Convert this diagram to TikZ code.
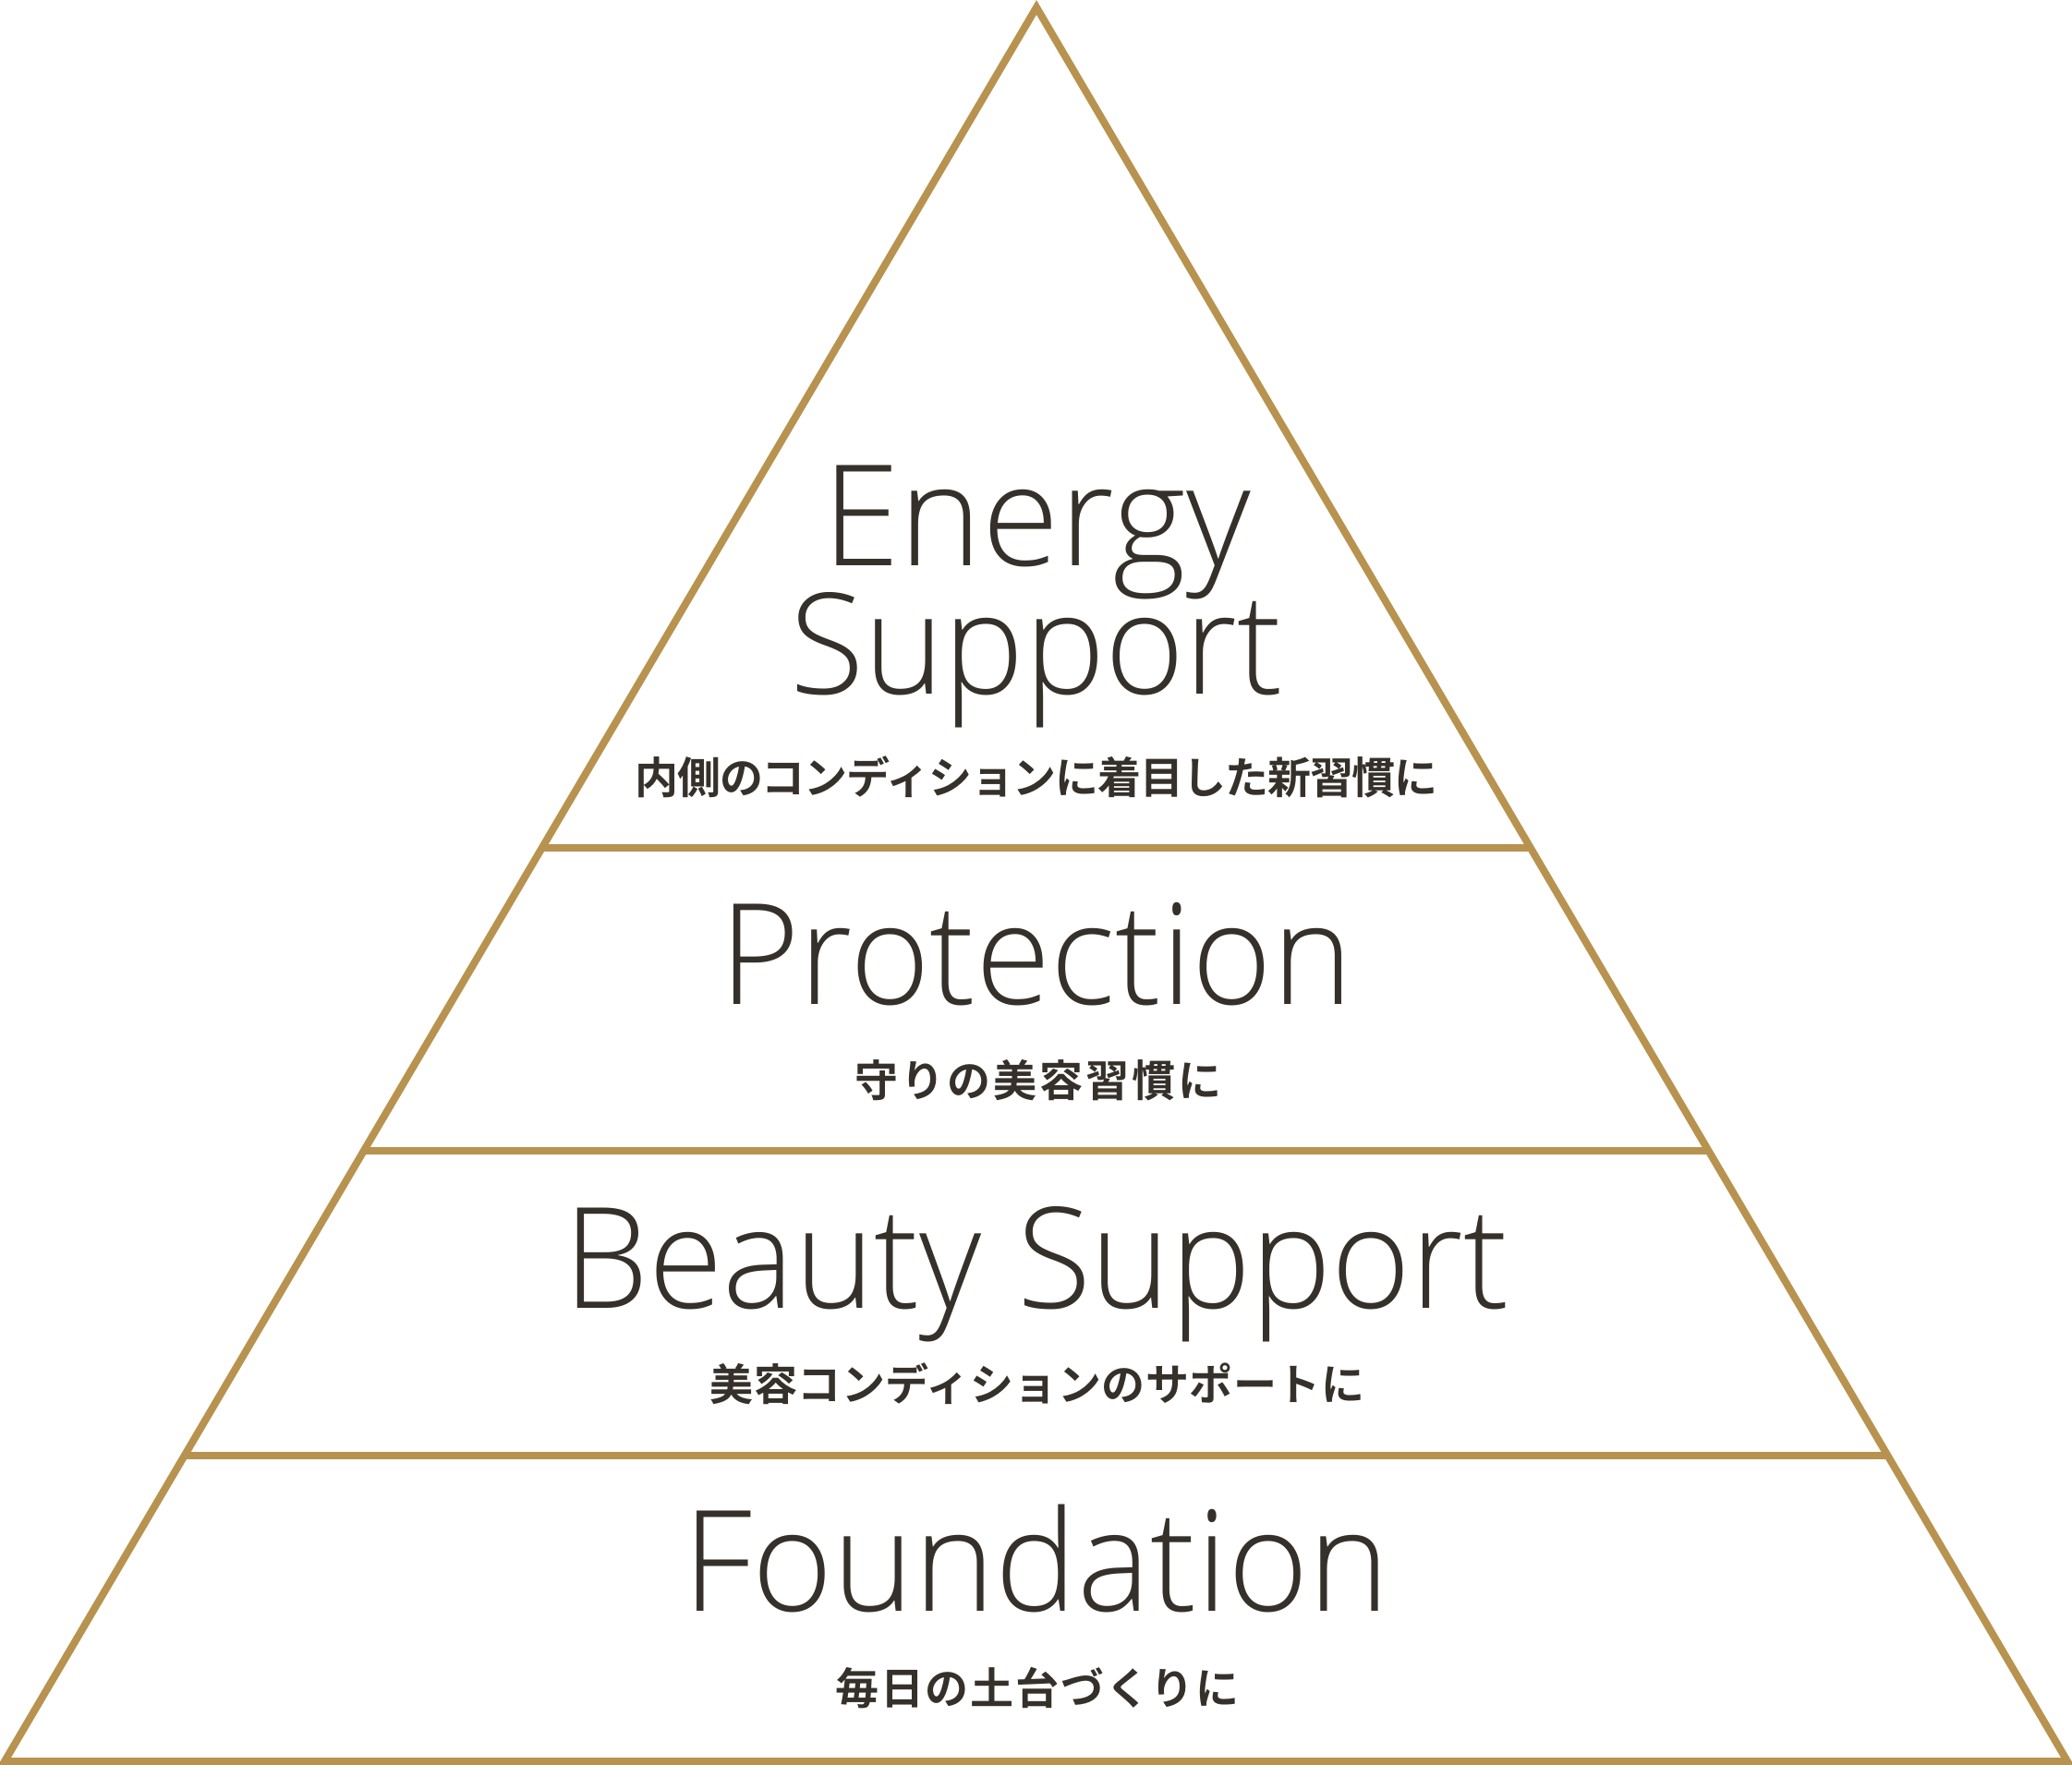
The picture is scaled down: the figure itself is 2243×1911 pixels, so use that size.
\documentclass[tikz,border=0pt]{standalone}
\usepackage{fontspec}
\usepackage{graphicx}
\usetikzlibrary{calc,positioning}
\newfontfamily\titlefont{Open Sans Light}
\newfontfamily\cjkfont{Noto Sans CJK JP Bold}
\definecolor{gold}{HTML}{B8934F}
\definecolor{ink}{HTML}{35302A}
\newcommand{\narrow}[2]{\scalebox{#1}[1]{#2}}
\newcommand{\tracked}[2]{{\addfontfeature{LetterSpace=#1}#2}}

\begin{document}
\begin{tikzpicture}[x=0.5pt, y=-0.5pt,
	layer/.style={draw=gold, line width=4pt},
	title/.style={text=ink, inner sep=0pt, anchor=base, font=\titlefont\fontsize{76}{80}\selectfont},
	sub/.style={text=ink, inner sep=0pt, font=\cjkfont\fontsize{23.5}{26}\selectfont}]
	\useasboundingbox (0, 0) rectangle (2243, 1911);
	\coordinate (apex) at (1122, 8);
	\coordinate (bl) at (5, 1907);
	\coordinate (br) at (2238, 1907);
	\draw[layer] (apex) -- (br) -- (bl) -- cycle;
	%%%%%
	\coordinate (l1) at ($(apex)!0.4792!(bl)$);
	\coordinate (r1) at ($(apex)!0.4792!(br)$);
	\coordinate (l2) at ($(apex)!0.6519!(bl)$);
	\coordinate (r2) at ($(apex)!0.6519!(br)$);
	\coordinate (l3) at ($(apex)!0.8257!(bl)$);
	\coordinate (r3) at ($(apex)!0.8257!(br)$);
	\draw[layer] (l1) -- (r1);
	\draw[layer] (l2) -- (r2);
	\draw[layer] (l3) -- (r3);
	%%%%%
	\node[title] (energy) at (1122, 612) {Energy};
	\node[title] (support) at (1122, 751) {\narrow{0.966}{Support}};
	\node[sub] (energysub) at (1122, 841) {\tracked{-2.4}{内側のコンディションに着目した新習慣に}};
	\node[title] (protection) at (1122, 1087) {\narrow{0.973}{Protection}};
	\node[sub] (protectionsub) at (1124, 1170) {\tracked{6.5}{守りの美容習慣に}};
	\node[title] (beauty) at (1122, 1416) {\narrow{0.963}{Beauty Support}};
	\node[sub] (beautysub) at (1123, 1498) {\tracked{1.1}{美容コンディションのサポートに}};
	\node[title] (foundation) at (1122, 1744) {\narrow{0.981}{Foundation}};
	\node[sub] (foundationsub) at (1123, 1828) {\tracked{3.8}{毎日の土台づくりに}};
\end{tikzpicture}
\end{document}
